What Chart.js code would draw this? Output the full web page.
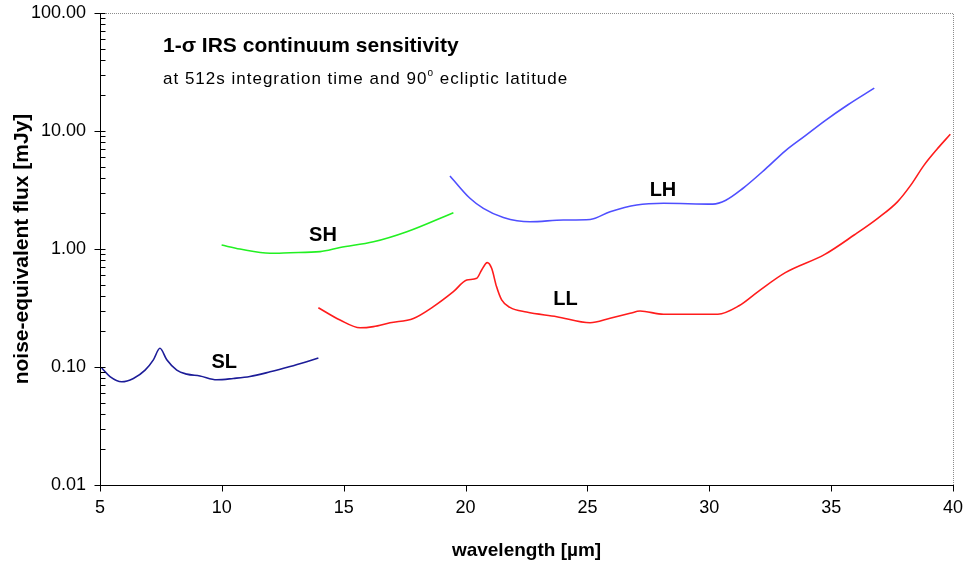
<!DOCTYPE html>
<html>
<head>
<meta charset="utf-8">
<script src="https://cdn.jsdelivr.net/npm/chart.js@4/dist/chart.umd.min.js"></script>
<style>
  html, body { margin: 0; padding: 0; background: #fff; }
  canvas { display: block; }
</style>
</head>
<body>
<canvas id="grafico" width="967" height="564"></canvas>
<script>
// ===== dados =====
const slX = [5.07, 5.41, 5.89, 6.37, 6.85, 7.19, 7.46, 7.74, 8.15, 8.56, 9.10, 9.79, 10.47, 11.15, 11.98, 12.80, 13.48, 13.96];
const slY = [0.098, 0.083, 0.075, 0.080, 0.094, 0.115, 0.144, 0.115, 0.094, 0.087, 0.084, 0.078, 0.080, 0.083, 0.091, 0.101, 0.111, 0.119];

const shX = [9.99, 10.74, 11.98, 12.80, 14.03, 14.85, 16.22, 17.59, 19.50];
const shY = [1.08, 1.00, 0.92, 0.93, 0.95, 1.03, 1.15, 1.40, 2.03];

const lhX = [19.36, 20.18, 20.73, 21.55, 22.64, 24.01, 25.11, 25.93, 27.02, 28.12, 30.15, 30.68, 31.36, 32.31, 33.12, 33.93, 34.74, 35.69, 36.77];
const lhY = [4.16, 2.69, 2.21, 1.85, 1.70, 1.76, 1.78, 2.07, 2.36, 2.44, 2.40, 2.59, 3.24, 4.77, 6.79, 9.09, 12.2, 16.7, 23.1];

const llX = [13.96, 14.85, 15.67, 16.22, 16.90, 17.86, 18.68, 19.50, 20.05, 20.46, 20.66, 20.89, 21.07, 21.27, 21.48, 21.82, 22.50, 23.74, 25.11, 25.93, 26.75, 27.16, 28.12, 30.35, 31.22, 32.03, 33.12, 34.74, 35.96, 36.91, 37.72, 38.26, 38.80, 39.35, 39.89];
const llY = [0.318, 0.250, 0.215, 0.220, 0.237, 0.258, 0.325, 0.435, 0.546, 0.565, 0.664, 0.766, 0.686, 0.480, 0.370, 0.320, 0.292, 0.267, 0.237, 0.259, 0.285, 0.298, 0.280, 0.280, 0.330, 0.440, 0.630, 0.900, 1.32, 1.82, 2.51, 3.46, 5.09, 7.03, 9.38];

const yTicks = [0.01, 0.1, 1, 10, 100];
const xTicks = [5, 10, 15, 20, 25, 30, 35, 40];

const rotulos = ['SL', 'SH', 'LL', 'LH'];
const rotuloX = [10.1, 14.15, 24.1, 28.1];
const rotuloY = [0.110, 1.29, 0.37, 3.16];

const titulo = '1-σ IRS continuum sensitivity';
const subtitulo = 'at 512s integration time and 90';

// ===== desenho =====
Chart.defaults.font.family = '"Liberation Sans", Arial, sans-serif';
Chart.defaults.color = '#000';

function pares(xs, ys) {
    return xs.map((x, i) => ({ x: x, y: ys[i] }));
}

function serie(xs, ys, cor) {
    return {
        data: pares(xs, ys),
        borderColor: cor,
        borderWidth: 1.6,
        pointRadius: 0,
        fill: false,
        showLine: true,
        cubicInterpolationMode: 'monotone'
    };
}

const decoracao = {
    id: 'decoracao',
    afterDraw(chart) {
        const ctx = chart.ctx;
        const a = chart.chartArea;
        const sx = chart.scales.x;
        const sy = chart.scales.y;
        ctx.save();

        // bordas de cima e da direita (pontilhadas)
        ctx.strokeStyle = '#8c8c8c';
        ctx.lineWidth = 1;
        ctx.setLineDash([1, 1]);
        ctx.beginPath();
        ctx.moveTo(a.left, Math.round(a.top) + 0.5);
        ctx.lineTo(Math.round(a.right) + 0.5, Math.round(a.top) + 0.5);
        ctx.lineTo(Math.round(a.right) + 0.5, a.bottom);
        ctx.stroke();
        ctx.setLineDash([]);

        // marcas do eixo y
        ctx.strokeStyle = '#000';
        ctx.beginPath();
        const left = Math.round(a.left) + 0.5;
        yTicks.forEach((v, i) => {
            const py = Math.round(sy.getPixelForValue(v)) + 0.5;
            ctx.moveTo(left - 6, py);
            ctx.lineTo(left + 5, py);
            if (i < yTicks.length - 1) {
                for (let m = 2; m <= 9; m++) {
                    const pm = Math.round(sy.getPixelForValue(v * m)) + 0.5;
                    ctx.moveTo(left, pm);
                    ctx.lineTo(left + 5, pm);
                }
            }
        });
        // marcas do eixo x
        const bottom = Math.round(a.bottom) + 0.5;
        xTicks.forEach(v => {
            const px = Math.round(sx.getPixelForValue(v)) + 0.5;
            ctx.moveTo(px, bottom);
            ctx.lineTo(px, bottom + 6);
        });
        ctx.stroke();

        // títulos
        ctx.fillStyle = '#000';
        ctx.textBaseline = 'alphabetic';
        ctx.textAlign = 'left';
        ctx.font = 'bold 21px "Liberation Sans", Arial, sans-serif';
        ctx.fillText(titulo, 163, 52);
        ctx.letterSpacing = '1px';
        ctx.font = '17px "Liberation Sans", Arial, sans-serif';
        ctx.fillText(subtitulo, 163, 84);
        const w = ctx.measureText(subtitulo).width;
        ctx.font = '10px "Liberation Sans", Arial, sans-serif';
        ctx.fillText('o', 163 + w, 76);
        const w2 = ctx.measureText('o').width;
        ctx.font = '17px "Liberation Sans", Arial, sans-serif';
        ctx.fillText(' ecliptic latitude', 163 + w + w2, 84);
        ctx.letterSpacing = '0px';

        // rótulos das curvas
        ctx.font = 'bold 20px "Liberation Sans", Arial, sans-serif';
        ctx.textAlign = 'center';
        ctx.textBaseline = 'middle';
        rotulos.forEach((t, i) => {
            ctx.fillText(t, sx.getPixelForValue(rotuloX[i]), sy.getPixelForValue(rotuloY[i]));
        });
        ctx.restore();
    }
};

new Chart(document.getElementById('grafico').getContext('2d'), {
    type: 'scatter',
    data: {
        datasets: [
            serie(slX, slY, '#1c1c98'),
            serie(shX, shY, '#22f022'),
            serie(lhX, lhY, '#4f4fff'),
            serie(llX, llY, '#ff1c1c')
        ]
    },
    options: {
        responsive: false,
        animation: false,
        layout: { padding: { top: 13, right: 14, left: 0, bottom: 0 } },
        plugins: {
            legend: { display: false },
            tooltip: { enabled: false }
        },
        scales: {
            x: {
                type: 'linear',
                min: 5,
                max: 40,
                afterFit: s => {
                    s.height = 79;
                    s.paddingLeft = 0;
                    s.paddingRight = 0;
                },
                afterBuildTicks: s => { s.ticks = xTicks.map(v => ({ value: v })); },
                grid: { display: false, drawTicks: false },
                border: { display: true, color: '#000', width: 1 },
                ticks: { padding: 12, font: { size: 18 }, autoSkip: false, maxRotation: 0 },
                title: {
                    display: true,
                    text: 'wavelength [µm]',
                    font: { size: 19, weight: 'bold' },
                    padding: { top: 0, bottom: 2 }
                }
            },
            y: {
                type: 'logarithmic',
                min: 0.01,
                max: 100,
                afterFit: s => {
                    s.width = 100;
                    s.paddingTop = 0;
                    s.paddingBottom = 0;
                },
                afterBuildTicks: s => { s.ticks = yTicks.map(v => ({ value: v })); },
                grid: { display: false, drawTicks: false },
                border: { display: true, color: '#000', width: 1 },
                ticks: {
                    padding: 14,
                    font: { size: 18 },
                    autoSkip: false,
                    callback: v => Number(v).toFixed(2)
                },
                title: {
                    display: true,
                    text: 'noise-equivalent flux [mJy]',
                    font: { size: 21, weight: 'bold' },
                    padding: { top: 10, bottom: 0 }
                }
            }
        }
    },
    plugins: [decoracao]
});
</script>
</body>
</html>
